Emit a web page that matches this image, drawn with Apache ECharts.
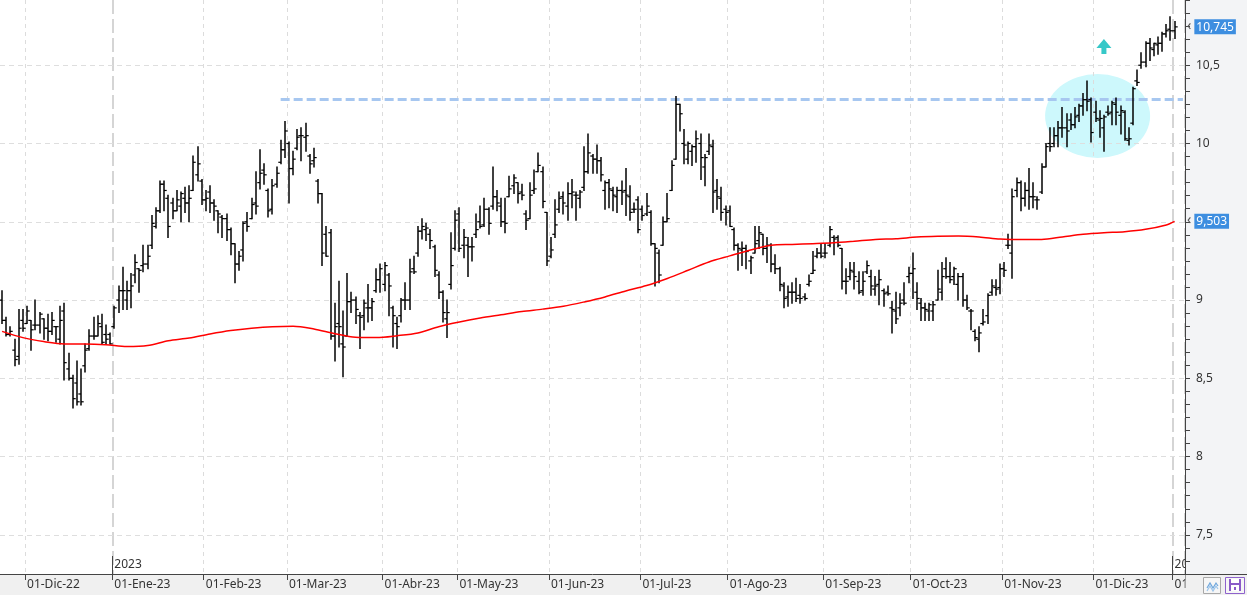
<!DOCTYPE html>
<html>
<head>
<meta charset="utf-8">
<script src="https://cdn.jsdelivr.net/npm/echarts@6/dist/echarts.min.js"></script>
<style>
html,body{margin:0;padding:0;background:#ffffff;}
#chart{width:1247px;height:595px;}
</style>
</head>
<body>
<div id="chart"></div>
<script>
// ---------- DATA ----------
const monthKeys = ['2022-11','2022-12','2023-01','2023-02','2023-03','2023-04','2023-05','2023-06','2023-07','2023-08','2023-09','2023-10','2023-11','2023-12','2024-01'];
const monthDays = [
  '23 24 25 28 29 30',
  '1 2 5 6 7 8 9 12 13 14 15 16 19 20 21 22 23 27 28 29 30',
  '2 3 4 5 6 9 10 11 12 13 16 17 18 19 20 23 24 25 26 27 30 31',
  '1 2 3 6 7 8 9 10 13 14 15 16 17 20 21 22 23 24 27 28',
  '1 2 3 6 7 8 9 10 13 14 15 16 17 20 21 22 23 24 27 28 29 30 31',
  '3 4 5 6 11 12 13 14 17 18 19 20 21 24 25 26 27 28',
  '2 3 4 5 8 9 10 11 12 15 16 17 18 19 22 23 24 25 26 29 30 31',
  '1 2 5 6 7 8 9 12 13 14 15 16 19 20 21 22 23 26 27 28 29 30',
  '3 4 5 6 7 10 11 12 13 14 17 18 19 20 21 24 25 26 27 28 31',
  '1 2 3 4 7 8 9 10 11 14 15 16 17 18 21 22 23 24 25 28 29 30 31',
  '1 4 5 6 7 8 11 12 13 14 15 18 19 20 21 22 25 26 27 28 29',
  '2 3 4 5 6 9 10 11 12 13 16 17 18 19 20 23 24 25 26 27 30 31',
  '1 2 3 6 7 8 9 10 13 14 15 16 17 20 21 22 23 24 27 28 29 30',
  '1 4 5 6 7 8 11 12 13 14 15 18 19 20 21 22 27 28 29',
  '2 3 4'
];
const monthNames = ['Ene','Feb','Mar','Abr','May','Jun','Jul','Ago','Sep','Oct','Nov','Dic'];

const opens = [
  9.00,8.87,8.78,8.68,8.64,8.87,8.85,8.87,8.84,8.84,
  8.88,8.82,8.80,8.83,8.75,8.93,8.56,8.50,8.47,8.40,
  8.58,8.69,8.77,8.77,8.83,8.78,8.78,8.83,9.00,9.06,
  9.00,9.06,9.16,9.20,9.22,9.23,9.35,9.47,9.57,9.74,
  9.65,9.62,9.57,9.60,9.65,9.62,9.70,9.80,9.76,9.64,
  9.69,9.62,9.57,9.53,9.52,9.45,9.36,9.23,9.32,9.50,
  9.52,9.62,9.75,9.83,9.70,9.58,9.74,9.88,9.96,10.00,
  9.84,9.97,10.05,10.04,9.92,9.89,9.76,9.68,9.42,9.43,
  8.77,8.85,8.72,8.77,8.99,9.00,8.90,8.90,8.95,8.95,
  9.06,9.13,9.10,9.16,8.95,8.85,8.90,9.00,9.00,9.20,
  9.30,9.44,9.45,9.42,9.34,9.16,9.05,8.88,9.10,9.33,
  9.55,9.35,9.35,9.34,9.42,9.50,9.48,9.58,9.60,9.66,
  9.60,9.50,9.66,9.73,9.75,9.69,9.55,9.52,9.70,9.82,
  9.82,9.56,9.28,9.42,9.58,9.66,9.60,9.68,9.67,9.65,
  9.72,9.82,9.92,9.90,9.89,9.70,9.75,9.70,9.66,9.70,
  9.70,9.66,9.58,9.64,9.58,9.55,9.56,9.36,9.30,9.35,
  9.50,9.70,9.90,10.25,10.00,9.90,9.95,9.98,10.00,9.85,
  9.95,9.98,9.70,9.65,9.58,9.57,9.45,9.35,9.32,9.33,
  9.25,9.30,9.38,9.42,9.33,9.35,9.23,9.20,9.09,9.02,
  9.05,9.05,9.03,9.02,9.10,9.17,9.28,9.30,9.30,9.35,
  9.40,9.40,9.33,9.12,9.15,9.18,9.12,9.06,9.18,9.15,
  9.07,9.10,9.06,9.05,8.95,8.93,8.95,9.00,9.15,9.17,
  9.05,8.98,8.95,8.93,8.93,9.00,9.05,9.20,9.15,9.15,
  9.10,9.15,9.00,8.93,8.80,8.75,8.85,8.90,9.05,9.08,
  9.08,9.20,9.35,9.30,9.70,9.75,9.65,9.70,9.66,9.64,
  9.69,9.85,10.00,10.00,10.05,10.10,10.10,10.15,10.12,10.18,
  10.24,10.28,10.28,10.20,10.15,10.10,10.20,10.20,10.25,10.18,
  10.20,10.02,10.13,10.40,10.50,10.52,10.64,10.60,10.63,10.64,
  10.70,10.73,10.72
];
const highs = [
  9.06,8.89,8.83,8.75,8.94,8.94,8.96,8.87,9.00,8.92,
  8.88,8.91,8.92,8.83,8.96,8.98,8.66,8.52,8.61,8.56,
  8.72,8.81,8.89,8.90,8.91,8.84,8.79,8.96,9.09,9.21,
  9.12,9.17,9.29,9.20,9.35,9.35,9.54,9.59,9.76,9.76,
  9.67,9.65,9.70,9.69,9.72,9.73,9.92,9.98,9.77,9.70,
  9.73,9.64,9.57,9.54,9.55,9.46,9.36,9.31,9.50,9.56,
  9.65,9.82,9.96,9.87,9.71,9.77,9.85,10.02,10.14,10.01,
  9.95,10.09,10.10,10.13,9.93,9.97,9.77,9.68,9.47,9.45,
  8.98,9.12,8.93,9.17,9.05,9.02,8.92,9.00,9.10,9.01,
  9.20,9.23,9.24,9.17,8.96,8.89,9.01,9.11,9.26,9.28,
  9.47,9.52,9.49,9.45,9.35,9.18,9.06,9.00,9.43,9.57,
  9.59,9.45,9.40,9.40,9.55,9.60,9.65,9.59,9.85,9.70,
  9.65,9.65,9.79,9.80,9.75,9.74,9.57,9.75,9.83,9.94,
  9.85,9.56,9.40,9.64,9.69,9.69,9.75,9.77,9.69,9.70,
  9.98,10.06,9.93,9.99,9.91,9.76,9.77,9.72,9.72,9.76,
  9.84,9.73,9.62,9.66,9.60,9.68,9.57,9.36,9.32,9.53,
  9.68,9.89,10.30,10.25,10.09,10.01,9.99,10.08,10.06,9.93,
  10.06,10.02,9.77,9.72,9.60,9.60,9.46,9.36,9.37,9.35,
  9.28,9.47,9.47,9.42,9.40,9.36,9.29,9.21,9.11,9.09,
  9.11,9.14,9.10,9.04,9.16,9.31,9.33,9.36,9.36,9.47,
  9.41,9.41,9.33,9.20,9.24,9.24,9.18,9.18,9.25,9.19,
  9.15,9.19,9.07,9.09,8.99,9.05,9.04,9.11,9.21,9.30,
  9.11,9.01,8.98,8.98,8.99,9.19,9.24,9.27,9.24,9.21,
  9.17,9.17,9.03,8.94,8.81,8.83,8.94,9.04,9.13,9.13,
  9.23,9.24,9.42,9.71,9.78,9.76,9.75,9.84,9.75,9.66,
  9.87,10.00,10.10,10.10,10.14,10.23,10.19,10.19,10.23,10.25,
  10.32,10.40,10.29,10.27,10.21,10.18,10.24,10.27,10.29,10.24,
  10.21,10.10,10.36,10.47,10.58,10.65,10.67,10.64,10.68,10.71,
  10.76,10.81,10.78
];
const lows = [
  8.85,8.77,8.77,8.58,8.59,8.80,8.85,8.68,8.81,8.79,
  8.75,8.74,8.78,8.73,8.72,8.49,8.49,8.31,8.33,8.33,
  8.54,8.68,8.75,8.77,8.72,8.72,8.72,8.82,8.92,8.94,
  8.94,8.95,9.11,9.05,9.18,9.20,9.33,9.46,9.56,9.57,
  9.40,9.52,9.57,9.50,9.56,9.50,9.70,9.76,9.61,9.57,
  9.56,9.51,9.43,9.40,9.38,9.29,9.11,9.19,9.25,9.44,
  9.52,9.55,9.71,9.74,9.53,9.55,9.72,9.87,9.91,9.62,
  9.80,9.96,9.89,9.95,9.81,9.85,9.62,9.22,9.28,8.75,
  8.61,8.70,8.51,8.77,8.92,8.85,8.69,8.81,8.86,8.87,
  9.05,9.05,9.06,8.90,8.70,8.69,8.86,8.94,8.94,9.17,
  9.28,9.39,9.38,9.33,9.15,9.01,8.86,8.76,9.07,9.32,
  9.31,9.27,9.15,9.25,9.40,9.46,9.47,9.42,9.58,9.57,
  9.47,9.43,9.66,9.68,9.62,9.64,9.45,9.52,9.68,9.82,
  9.59,9.22,9.27,9.40,9.56,9.55,9.51,9.59,9.51,9.59,
  9.70,9.81,9.81,9.81,9.76,9.58,9.59,9.57,9.56,9.61,
  9.54,9.51,9.56,9.43,9.51,9.54,9.35,9.09,9.11,9.35,
  9.50,9.70,9.90,10.08,9.87,9.87,9.86,9.88,9.77,9.73,
  9.93,9.56,9.58,9.51,9.48,9.47,9.32,9.19,9.22,9.20,
  9.17,9.30,9.33,9.29,9.24,9.18,9.17,9.06,8.95,8.96,
  8.98,8.99,8.98,9.00,9.09,9.17,9.27,9.27,9.27,9.34,
  9.29,9.34,9.07,9.04,9.13,9.07,9.04,9.03,9.17,9.03,
  9.03,8.97,8.96,9.03,8.79,8.85,8.90,8.97,9.11,9.01,
  8.94,8.87,8.87,8.87,8.87,9.00,9.00,9.14,9.11,9.10,
  9.00,8.96,8.94,8.81,8.74,8.67,8.84,8.85,9.03,9.03,
  9.04,9.15,9.33,9.14,9.66,9.57,9.60,9.58,9.59,9.58,
  9.68,9.85,9.95,9.98,9.98,10.04,9.98,10.09,10.10,10.14,
  10.18,10.21,10.01,10.14,10.04,9.95,10.18,10.12,10.12,10.06,
  10.02,9.99,10.12,10.37,10.48,10.49,10.53,10.56,10.57,10.59,
  10.68,10.66,10.67
];
const closes = [
  8.87,8.78,8.80,8.62,8.82,8.82,8.93,8.81,8.84,8.91,
  8.82,8.80,8.87,8.83,8.87,8.60,8.50,8.37,8.35,8.35,
  8.68,8.77,8.77,8.85,8.73,8.75,8.72,8.95,9.06,9.06,
  9.06,9.09,9.24,9.19,9.23,9.28,9.49,9.57,9.74,9.70,
  9.47,9.57,9.64,9.68,9.62,9.65,9.88,9.87,9.64,9.65,
  9.62,9.60,9.55,9.52,9.45,9.36,9.23,9.28,9.49,9.47,
  9.61,9.60,9.81,9.80,9.57,9.73,9.81,9.96,10.08,9.84,
  9.90,10.04,10.05,10.05,9.87,9.91,9.68,9.30,9.28,8.77,
  8.83,8.83,8.70,8.99,9.00,8.94,8.89,8.98,8.95,8.99,
  9.13,9.20,9.22,9.09,8.90,8.83,9.00,9.00,9.18,9.18,
  9.44,9.47,9.46,9.38,9.19,9.05,8.92,8.92,9.22,9.51,
  9.33,9.40,9.34,9.34,9.45,9.47,9.58,9.49,9.66,9.62,
  9.50,9.49,9.71,9.78,9.68,9.67,9.51,9.67,9.71,9.86,
  9.63,9.25,9.32,9.48,9.65,9.62,9.68,9.69,9.67,9.69,
  9.82,9.94,9.90,9.89,9.80,9.75,9.71,9.67,9.70,9.69,
  9.67,9.56,9.58,9.45,9.54,9.60,9.36,9.33,9.16,9.50,
  9.52,9.86,10.25,10.19,9.99,10.00,9.98,10.03,9.91,9.91,
  9.99,9.69,9.66,9.56,9.56,9.47,9.35,9.33,9.33,9.31,
  9.27,9.36,9.43,9.33,9.35,9.23,9.20,9.10,9.01,9.05,
  9.05,9.01,9.01,9.01,9.12,9.19,9.30,9.28,9.30,9.45,
  9.39,9.35,9.12,9.12,9.19,9.15,9.05,9.12,9.22,9.09,
  9.09,9.13,9.04,9.04,8.94,8.88,8.98,8.98,9.17,9.20,
  9.01,8.95,8.94,8.97,8.97,9.07,9.15,9.15,9.13,9.20,
  9.15,9.00,8.95,8.93,8.76,8.79,8.86,9.03,9.09,9.07,
  9.20,9.19,9.35,9.66,9.75,9.65,9.70,9.66,9.66,9.64,
  9.85,9.98,9.98,10.05,10.10,10.10,10.08,10.12,10.17,10.24,
  10.28,10.27,10.07,10.16,10.16,10.17,10.19,10.26,10.20,10.21,
  10.03,10.03,10.35,10.39,10.52,10.64,10.61,10.64,10.64,10.70,
  10.72,10.72,10.745
];

// moving average, read at sampled bars
const maIndex  = [0,5,10,15,20,25,30,35,40,45,50,55,60,65,70,75,80,85,90,95,100,105,110,115,120,125,130,135,140,145,150,155,160,165,170,175,180,185,190,195,200,205,210,215,220,225,230,235,240,245,250,255,260,265,270,275,280,282];
const maValues = [8.80,8.76,8.735,8.72,8.72,8.715,8.703,8.709,8.74,8.757,8.783,8.805,8.82,8.83,8.833,8.815,8.785,8.762,8.76,8.772,8.79,8.83,8.86,8.885,8.906,8.927,8.942,8.96,8.988,9.02,9.058,9.093,9.138,9.19,9.243,9.282,9.32,9.35,9.355,9.36,9.366,9.376,9.387,9.392,9.402,9.407,9.409,9.403,9.39,9.386,9.387,9.403,9.42,9.43,9.437,9.452,9.48,9.503];

const yTickLabels = [7.5, 8, 8.5, 9, 9.5, 10, 10.5];
const resistanceLevel = 10.28;
const resistanceFromIdx = 67;
const lastClose = 10.745;
const lastMA = 9.503;
const highlightCenter = [263, 10.176];
const arrowPoint = [265, 10.62];

// ---------- BUILD ----------
const dates = [];
monthKeys.forEach((m, k) => monthDays[k].split(' ').forEach(d => dates.push(m + '-' + d.padStart(2, '0'))));
const isMonthStart = i => i > 0 && dates[i].slice(0, 7) !== dates[i - 1].slice(0, 7);
const isYearStart = i => i > 0 && dates[i].slice(0, 4) !== dates[i - 1].slice(0, 4);
const ohlc = opens.map((o, i) => [i, o, highs[i], lows[i], closes[i]]);
const maData = maIndex.map((i, k) => [i, maValues[k]]);
const FONT = 'Noto Sans';
const fmtComma = v => String(v).replace('.', ',');

function renderOHLC(params, api) {
  const i = api.value(0);
  const o = api.coord([i, api.value(1)]);
  const h = api.coord([i, api.value(2)]);
  const l = api.coord([i, api.value(3)]);
  const c = api.coord([i, api.value(4)]);
  const x = Math.round(h[0]);
  const st = { stroke: '#000', lineWidth: 1.5 };
  const tk = { stroke: '#000', lineWidth: 1.2 };
  return {
    type: 'group',
    children: [
      { type: 'line', shape: { x1: x, y1: h[1] - 0.5, x2: x, y2: l[1] + 0.5 }, style: st },
      { type: 'line', shape: { x1: x - 2.7, y1: o[1], x2: x, y2: o[1] }, style: tk },
      { type: 'line', shape: { x1: x, y1: c[1], x2: x + 2.7, y2: c[1] }, style: tk }
    ]
  };
}

const chart = echarts.init(document.getElementById('chart'), null, { renderer: 'canvas' });
const option = {
  animation: false,
  backgroundColor: '#ffffff',
  textStyle: { fontFamily: FONT },
  grid: { left: 0, right: 62, top: 0, bottom: 21, containLabel: false },
  xAxis: [
    {
      type: 'category', data: dates, boundaryGap: true, position: 'bottom', z: 1,
      axisLine: { show: true, lineStyle: { color: '#444', width: 1 } },
      axisTick: { show: true, length: 6, interval: i => isMonthStart(i), lineStyle: { color: '#444' } },
      axisLabel: {
        show: true, interval: i => isMonthStart(i), align: 'left', margin: 5,
        fontSize: 12, color: '#333', fontFamily: FONT,
        formatter: v => '01-' + monthNames[+v.slice(5, 7) - 1] + '-' + v.slice(2, 4)
      },
      splitLine: { show: true, interval: i => isMonthStart(i) && !isYearStart(i), lineStyle: { color: '#dcdcdc', type: [4, 4], width: 1 } }
    },
    {
      type: 'category', data: dates, boundaryGap: true, position: 'bottom', z: 1,
      axisLine: { show: false },
      axisTick: { show: true, inside: true, length: 18, interval: i => isYearStart(i), lineStyle: { color: '#444' } },
      axisLabel: {
        show: true, inside: true, interval: i => isYearStart(i), align: 'left', margin: 3,
        fontSize: 12, color: '#333', fontFamily: FONT, formatter: v => v.slice(0, 4)
      },
      splitLine: { show: true, interval: i => isYearStart(i), lineStyle: { color: '#c8c8c8', type: [14, 5], width: 1.5 } }
    }
  ],
  yAxis: {
    type: 'value', position: 'right', min: 7.25, max: 131 / 12, interval: 1 / 12, z: 3,
    axisLine: { show: true, lineStyle: { color: '#444', width: 1 } },
    axisTick: { show: true, length: 5, lineStyle: { color: '#444' } },
    axisLabel: {
      show: true, margin: 11, fontSize: 12, color: '#333', fontFamily: FONT,
      formatter: v => {
        const r = Math.round(v * 2) / 2;
        return (Math.abs(v - r) < 1e-6 && yTickLabels.indexOf(r) >= 0) ? fmtComma(r) : '';
      }
    },
    splitLine: { show: false }
  },
  series: [
    {
      name: 'zona', type: 'scatter', z: 0, silent: true,
      data: [highlightCenter], symbol: 'circle', symbolSize: [105, 84], symbolOffset: [2, 0],
      itemStyle: { color: '#cdf8fc', opacity: 1 },
      markLine: {
        z: 1, silent: true, symbol: ['none', 'none'], animation: false, precision: 3,
        label: { show: false },
        lineStyle: { color: '#dedede', type: [5, 4], width: 1 },
        data: yTickLabels.map(v => ({ yAxis: v })).concat([[
          { coord: [dates[resistanceFromIdx], resistanceLevel], lineStyle: { color: '#a7c7f0', width: 3, type: [9, 4] } },
          { coord: [dates[dates.length - 1], resistanceLevel] }
        ]])
      }
    },
    {
      name: 'OHLC', type: 'custom', z: 3, silent: true, clip: true,
      renderItem: renderOHLC,
      encode: { x: 0, y: [1, 2, 3, 4] },
      data: ohlc
    },
    {
      name: 'Media', type: 'line', z: 4, silent: true, clip: false,
      data: maData, showSymbol: false, smooth: 0.3,
      lineStyle: { color: '#ff0000', width: 1.5 }
    },
    {
      name: 'Etiquetas', type: 'line', z: 10, silent: true, clip: false,
      data: [[dates.length - 3, lastClose]], showSymbol: false,
      lineStyle: { width: 0, color: 'rgba(0,0,0,0)' },
      markLine: {
        z: 10, silent: true, symbol: ['none', 'none'], animation: false, precision: 3,
        lineStyle: { width: 0, color: 'rgba(0,0,0,0)' },
        label: {
          show: true, position: 'end', distance: 2,
          formatter: p => '{a|‹}{b|' + fmtComma(Number(p.value).toFixed(3)) + '}',
          rich: {
            a: { color: '#555', fontSize: 14, fontFamily: FONT, padding: [0, 3, 2, 0] },
            b: { color: '#ffffff', backgroundColor: '#3d8ee0', fontSize: 12, fontFamily: FONT, padding: [2, 2, 1, 2], lineHeight: 15 }
          }
        },
        data: [{ yAxis: lastClose }, { yAxis: lastMA }]
      }
    },
    {
      name: 'flecha', type: 'scatter', z: 4, silent: true,
      data: [arrowPoint],
      symbol: 'path://M7.5 0 L15 9 L10 9 L10 15 L5 15 L5 9 L0 9 Z',
      symbolSize: [15, 15],
      itemStyle: { color: '#36c8c8', opacity: 1 }
    }
  ],
  graphic: [
    { type: 'rect', z: 0, silent: true, shape: { x: 0, y: 574, width: 1247, height: 21 }, style: { fill: '#f0f0f0' } },
    { type: 'rect', z: 2, silent: true, shape: { x: 1185.5, y: 0, width: 62, height: 574 }, style: { fill: '#f3f4f6' } },
    { type: 'rect', z: 2, silent: true, shape: { x: 1185.5, y: 574, width: 62, height: 21 }, style: { fill: '#f0f0f0' } },
    { type: 'line', z: 3, silent: true, shape: { x1: 1185, y1: 574.5, x2: 1247, y2: 574.5 }, style: { stroke: '#444', lineWidth: 1 } },
    { type: 'rect', z: 3, silent: true, shape: { x: 1203.5, y: 577.5, width: 17, height: 16 }, style: { fill: '#f6f6f6', stroke: '#a8a8a8', lineWidth: 1 } },
    { type: 'polyline', z: 4, silent: true, shape: { points: [[1207, 588], [1210, 583], [1213, 588], [1216, 583], [1218, 586]] }, style: { stroke: '#6ea6dc', lineWidth: 1.2, fill: null } },
    { type: 'polyline', z: 4, silent: true, shape: { points: [[1207, 591], [1210, 586], [1213, 591], [1216, 586], [1218, 589]] }, style: { stroke: '#9cc4ea', lineWidth: 1.2, fill: null } },
    { type: 'rect', z: 3, silent: true, shape: { x: 1225.5, y: 577.5, width: 19, height: 16 }, style: { fill: '#f6f6f6', stroke: '#8e62cc', lineWidth: 1 } },
    { type: 'rect', z: 4, silent: true, shape: { x: 1229, y: 579, width: 12, height: 12 }, style: { fill: '#8a5bc8' } },
    { type: 'rect', z: 5, silent: true, shape: { x: 1231, y: 579, width: 8, height: 4 }, style: { fill: '#ffffff' } },
    { type: 'rect', z: 5, silent: true, shape: { x: 1231, y: 585, width: 8, height: 6 }, style: { fill: '#ffffff' } },
    { type: 'rect', z: 6, silent: true, shape: { x: 1234, y: 587, width: 2, height: 3 }, style: { fill: '#8a5bc8' } }
  ]
};
chart.setOption(option);
</script>
</body>
</html>
